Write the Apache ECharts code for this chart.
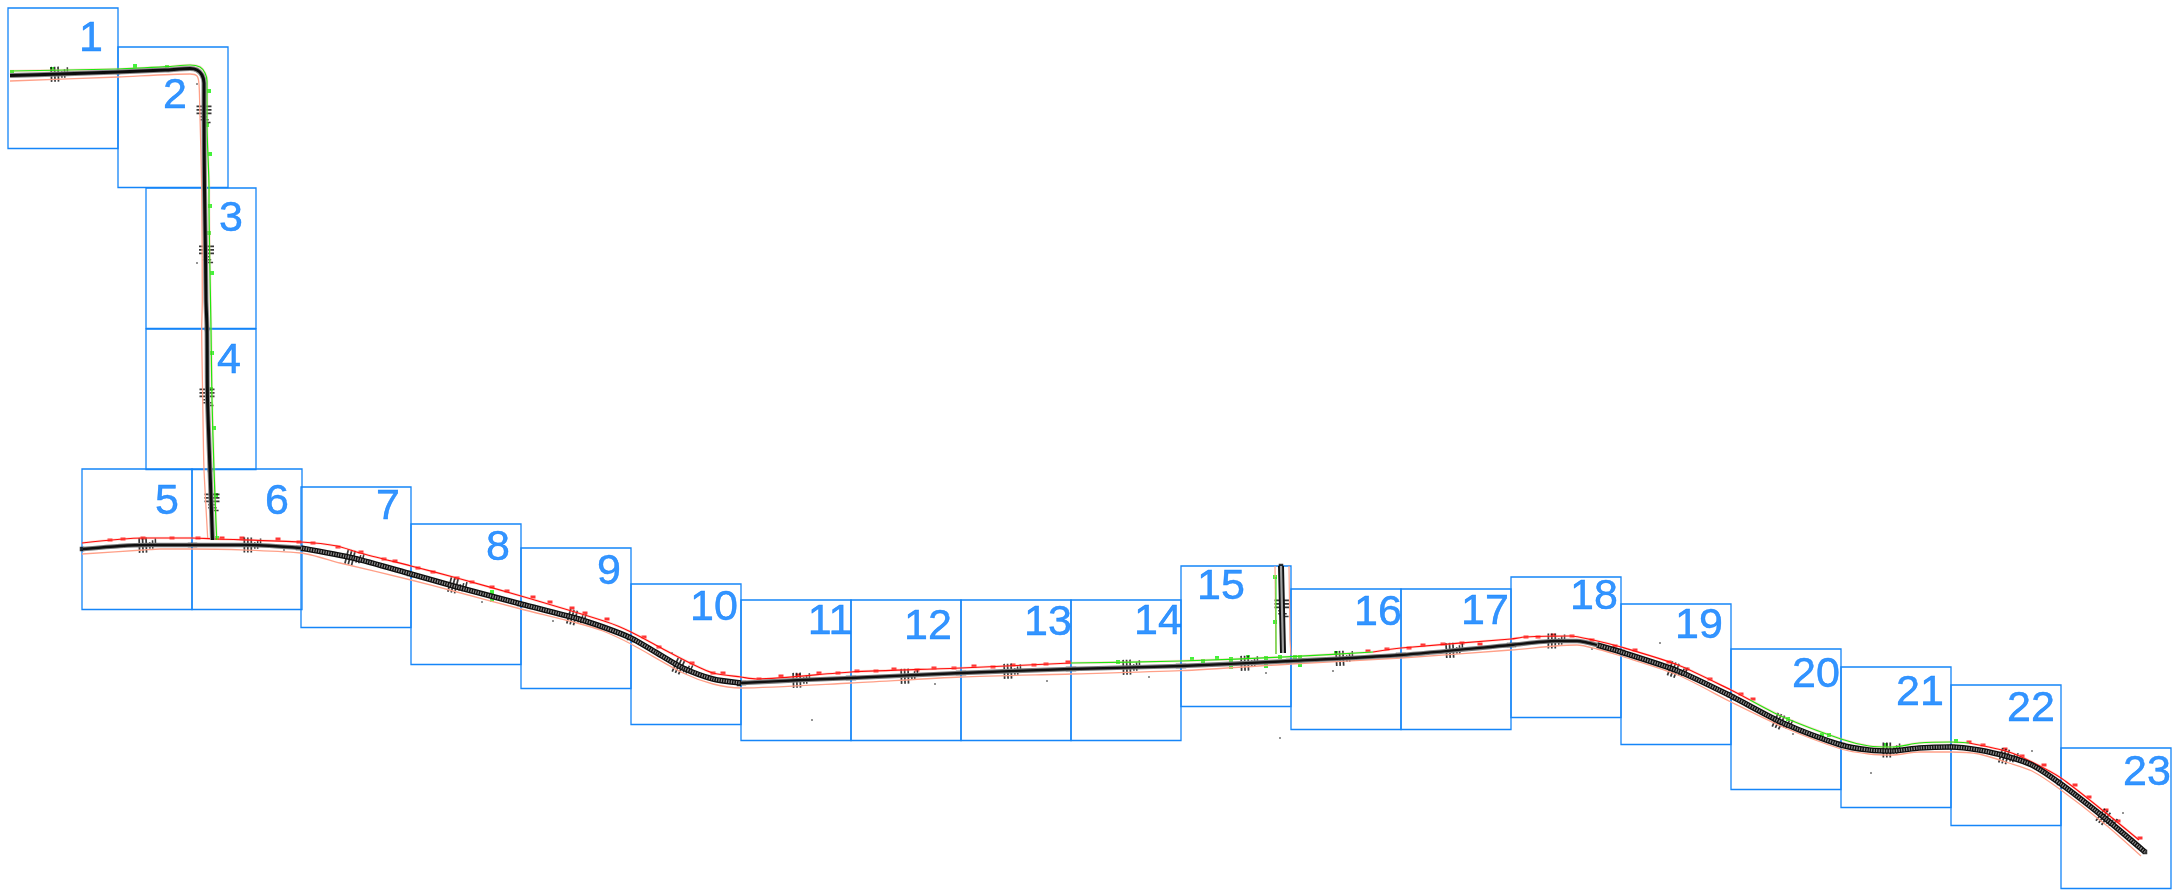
<!DOCTYPE html>
<html><head><meta charset="utf-8">
<style>html,body{margin:0;padding:0;background:#fff}#c{width:2179px;height:890px}</style>
<script src="https://cdn.jsdelivr.net/npm/echarts@6/dist/echarts.min.js"></script></head>
<body><div id="c"></div>
<script>
// sheet frames: [number, left, top, label x, label y]
const sheets = [[1,8,8,91,39],[2,118,47,175,96],[3,146,188,231,219],[4,146,329,229,361],[5,82,469,167,502],[6,192,469,277,502],
[7,301,487,388,507],[8,411,524,498,548],[9,521,548,609,572],[10,631,584,714,608],[11,741,600,830,622],[12,851,600,928,627],
[13,961,600,1048,623],[14,1071,600,1158,622],[15,1181,566,1221,587],[16,1291,589,1378,613],[17,1401,589,1485,612],[18,1511,577,1594,597],
[19,1621,604,1699,626],[20,1731,649,1816,675],[21,1841,667,1920,693],[22,1951,685,2031,709],[23,2061,748,2147,773]];
const sheetW = 110, sheetH = 140.5;

// centre lines
const trackBranchA = [[10,75.5],[60,74],[118,72],[165,70],[190,68.5],[197,70],[202,75],[204,83],[204,117],[204.5,188],[205.5,255],[206,300],[207,329],[207.5,398],[210,470],[212.5,540]];
const trackBranchB = [[1281,566],[1282,609],[1283,653]];
const trackMain1 = [[83,549],[120,546],[148,545],[192,545],[250,545],[301,548]];
const trackMain2 = [[301,548],[353,558],[411,574],[457,587],[521,604],[577,618.5],[603,627],[631,638],[657,653],[683,668],[713,679],[741,683]];
const trackMain3 = [[741,683],[802,680],[851,678],[961,673],[1071,669],[1181,666],[1291,661],[1401,655],[1511,645],[1555,641],[1577,641],[1597,645]];
const trackMain4 = [[1597,645],[1621,652],[1678,671],[1731,696],[1783,723],[1841,745],[1869,750],[1892,751],[1919,748],[1951,747],[1979,750],[2009,757],[2032,765],[2061,784],[2106,819],[2145,852]];

// outer limits
const limitLowMain = [[82,554],[143,550],[160,549],[192,549],[301,553],[340,563],[411,580],[457,592],[521,609],[577,623],[603,631],[631,644],[683,673],[713,684],[741,688],[851,683],[961,677],[1071,674],[1181,670.7],[1291,664],[1401,658],[1511,650],[1555,646],[1577,645],[1597,649],[1621,656],[1678,675],[1731,702],[1783,727],[1841,749],[1869,754],[1892,755],[1919,752],[1951,752],[1979,754],[2009,763],[2032,771],[2061,790],[2106,825],[2141,856]];
const limitLowBranch = [[10,81],[118,77],[190,74],[197,76],[199,84],[200,117],[201.7,188],[202.3,300],[201.7,329],[202.7,398],[204,470],[207.7,538]];
const limitStub = [[1289,566],[1290,640],[1291,655]];
const limitStubL = [[1275,566],[1276,654]];
const redA = [[82,543],[143,538],[192,538],[217,539],[301,542],[337,546],[360,553],[411,566],[457,578],[521,596],[607,622],[631,632],[663,649],[690,663],[713,673],[741,677],[757,679],[851,672],[961,668],[1071,663]];
const redB = [[1373,652],[1401,648],[1511,639],[1525,637],[1570,636],[1593,640],[1621,647],[1678,665],[1731,690],[1750,700]];
const redC = [[1969,743],[2009,752],[2032,762],[2061,778],[2106,813],[2139,840]];
const greenA = [[10,71],[118,69],[167,66.7],[190,65],[200,67],[205,73],[207,81],[207,125],[209,188],[209,200],[211,329],[212,400],[214,470],[216.7,540]];
const greenB = [[1071,663],[1181,661],[1291,656.7],[1373,652]];
const greenC = [[1750,700],[1783,717],[1841,739],[1869,746],[1892,747],[1919,743],[1951,742],[1969,743]];
const greenStub = [[1276,577],[1276,654]];

// insulated joint groups: x, y, slope in degrees
const joints = [[62,74,2],[204,117,-90],[206.5,257,-90],[207,400,-90],[212,505,-90],[150,545,2],[255,545,0],[357,559,-14],[460,587,-14],[579,619,-15],[685,669,-24],[804,680,2],[912,676,2],[1015,671,2],[1134,667,2],[1252,663,2],[1282,611,-90],[1347,658,3],[1457,650,3],[1559,641,0],[1680,672,-20],[1785,724,-24],[1894,750,0],[2011,758,-15],[2109,821,-36]];
// sheet-edge nodes on the track
const nodes = [[118,72],[204,188],[207,329],[210,470],[82,549],[190,545],[195,545],[298,548],[304,549],[409,574],[413,575],[519,604],[524,605],[629,638],[634,640],[739,684],[744,683],[848,678],[854,678],[958,673],[964,673],[1068,669],[1074,669],[1178,666],[1184,666],[1288,661],[1294,661],[1398,655],[1404,655],[1509,645],[1514,645],[1619,651],[1623,652],[1729,695],[1733,697],[1839,744],[1843,745],[1949,747],[1953,747],[2059,783],[2063,786],[2145,852],[1281,566]];
const redMarks = [[110,540],[123,539],[143,538],[172,538],[198,538],[222,538],[242,538],[278,539],[299,542],[313,543],[338,547],[361,552],[384,559],[395,561],[418,568],[433,572],[457,578],[472,582],[492,587],[507,591],[533,597],[550,602],[572,608],[585,613],[607,619],[644,637],[659,647],[692,663],[713,673],[723,673],[759,679],[781,676],[798,675],[819,673],[838,673],[857,671],[876,671],[894,669],[917,670],[934,668],[954,668],[974,666],[993,667],[1013,665],[1034,665],[1046,664],[1068,662],[1368,651],[1387,649],[1409,648],[1423,645],[1443,644],[1462,643],[1480,644],[1526,637],[1538,637],[1553,635],[1572,636],[1592,640],[1615,646],[1635,650],[1669,662],[1687,669],[1710,679],[1741,694],[1753,699],[1969,742],[1983,745],[2005,749],[2022,756],[2044,765],[2075,785],[2089,797],[2106,810],[2118,821],[2140,838]];
const greenMarks = [[12,72],[52,69],[135,66],[167,67],[209,91],[207,125],[210,154],[210,206],[209,233],[212,273],[212,353],[211,389],[214,428],[216,495],[217,538],[1118,662],[1192,659],[1203,661],[1217,658],[1248,657],[1280,657],[1295,657],[1336,653],[1275,577],[1275,622],[1788,719],[1822,735],[1829,735],[1886,745],[1956,741]];
const greenTall = [[1231,663],[1266,662],[1300,661],[492,596]];
const specks = [[197,84],[197,263],[482,602],[553,621],[672,653],[504,601],[812,720],[935,684],[1047,681],[1149,677],[1266,673],[1333,671],[1280,738],[1660,643],[1592,649],[1793,734],[1871,773],[2032,751],[2123,813],[284,550]];

const jointPath = 'path://M0,0h1.8v16h-1.8zM3.6,0h1.8v16h-1.8zM7.2,0h1.8v16h-1.8zM11,5h1.6v7h-1.6zM14,3h1.6v9h-1.6zM17,1h1.6v8h-1.6zM21,7h3v1.6h-3z';

function line(data, color, width, extra) {
  return Object.assign({type:'line', data, symbol:'none', smooth:0.25, silent:true,
    lineStyle:{color, width, cap:'butt', join:'round'}}, extra || {});
}
function marks(data, color, size, rotate) {
  return {type:'scatter', data, symbol:'rect', symbolSize:size, symbolRotate:rotate||0, silent:true,
    itemStyle:{color}};
}
const limitColor = '#ffa088', halo = 'rgba(255,170,150,0.4)';
const series = [];
[limitLowMain, limitLowBranch].forEach(d => series.push(line(d, limitColor, 1.3)));
[limitStub, limitStubL].forEach(d => series.push(line(d, limitColor, 1.2, {smooth:false})));
[redA, redB, redC, greenA, greenB, greenC].forEach(d => series.push(line(d, halo, 2.6)));
[redA, redB, redC].forEach(d => series.push(line(d, '#ff0c0c', 1.2)));
[greenA, greenB, greenC].forEach(d => series.push(line(d, '#1ee80e', 1.2)));
series.push(line(greenStub, '#1ee80e', 1, {smooth:false}));

[trackBranchA].forEach(d => { series.push(line(d, '#8a8a8a', 5)); series.push(line(d, '#0c0c0c', 3)); });
series.push(line(trackBranchB, '#111', 6, {smooth:false}));
series.push(line(trackBranchB, '#a0a0a0', 2.2, {smooth:false}));
[trackMain1, trackMain3].forEach(d => { series.push(line(d, '#7c7c7c', 4.6)); series.push(line(d, '#101010', 2.3)); });
[trackMain2, trackMain4].forEach(d => {
  series.push(line(d, '#101010', 5.6));
  series.push(line(d, '#8c8c8c', 3, {lineStyle:{color:'#8c8c8c', width:3, type:[1.2,1.3], cap:'butt'}}));
});
series.push(marks(nodes, '#000', [4.5,4.5]));
series.push(marks(specks, '#222', [1.6,1.6]));
series.push(marks(redMarks, '#ff0000', [5,3]));
series.push(marks(greenMarks, '#14f00a', [4,4]));
series.push(marks(greenTall, '#14f00a', [4,12]));
series.push({type:'scatter', data:joints.map(j => ({value:[j[0],j[1]], symbolRotate:j[2]})),
  symbol:jointPath, symbolSize:[23,15], silent:true, itemStyle:{color:'#050505'}});
series.push({type:'custom', silent:true, data:sheets.map(s => [s[1],s[2]]),
  renderItem:(p, api) => {
    const a = api.coord([api.value(0), api.value(1)]);
    const b = api.coord([api.value(0)+sheetW, api.value(1)+sheetH]);
    return {type:'rect', shape:{x:a[0], y:a[1], width:b[0]-a[0], height:b[1]-a[1]},
      style:{fill:null, stroke:'#1585f8', lineWidth:1.3}, z2:5};
  }});
series.push({type:'scatter', silent:true, symbolSize:0,
  data:sheets.map(s => ({value:[s[3],s[4]], name:String(s[0])})),
  label:{show:true, position:'inside', formatter:'{b}', fontFamily:'Liberation Sans, Arial', fontSize:43, color:'#0079ff',
    textBorderColor:'#0079ff', textBorderWidth:0.5}});

const chart = echarts.init(document.getElementById('c'));
chart.setOption({animation:false, backgroundColor:'#fff',
  grid:{left:0,right:0,top:0,bottom:0},
  xAxis:{type:'value',min:0,max:2179,show:false},
  yAxis:{type:'value',min:0,max:890,inverse:true,show:false},
  series});
</script></body></html>
